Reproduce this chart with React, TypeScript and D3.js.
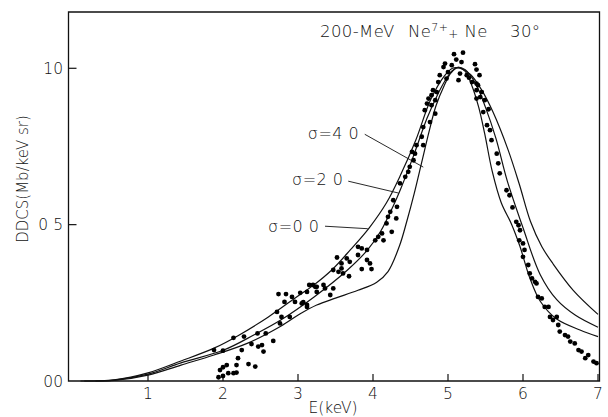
import React from "react";
import * as d3 from "d3";

// Curve control points (E in keV, DDCS in Mb/keV sr)
const curveSigma00: [number, number][] = [
  [0.1, 0], [0.55, 0.004], [1.0, 0.026], [1.44, 0.064], [1.88, 0.105], [2.2, 0.145],
  [2.6, 0.204], [3.0, 0.272], [3.2, 0.305], [3.45, 0.355], [3.7, 0.42], [3.95, 0.49],
  [4.18, 0.57], [4.37, 0.66], [4.57, 0.77], [4.77, 0.9], [4.95, 0.975], [5.06, 1.0],
  [5.16, 1.0], [5.3, 0.98], [5.45, 0.93], [5.6, 0.86], [5.8, 0.74], [5.95, 0.63],
  [6.1, 0.51], [6.25, 0.43], [6.4, 0.375], [6.67, 0.29], [7.0, 0.213],
];
const curveSigma20: [number, number][] = [
  [0.15, 0], [0.55, 0.003], [1.0, 0.022], [1.44, 0.058], [2.01, 0.099], [2.41, 0.147],
  [2.77, 0.195], [3.21, 0.268], [3.66, 0.355], [3.93, 0.42], [4.1, 0.478], [4.27, 0.56],
  [4.37, 0.615], [4.54, 0.72], [4.72, 0.84], [4.85, 0.91], [4.96, 0.96], [5.06, 0.993],
  [5.14, 1.003], [5.23, 0.995], [5.37, 0.95], [5.5, 0.875], [5.64, 0.775], [5.79, 0.64],
  [6.0, 0.49], [6.23, 0.34], [6.45, 0.26], [6.7, 0.21], [7.0, 0.172],
];
const curveSigma40: [number, number][] = [
  [0.3, 0], [0.55, 0.002], [1.0, 0.019], [1.44, 0.051], [1.88, 0.083], [2.33, 0.121],
  [2.77, 0.175], [3.03, 0.215], [3.25, 0.243], [3.5, 0.265], [3.8, 0.29], [4.05, 0.316],
  [4.2, 0.35], [4.35, 0.43], [4.45, 0.51], [4.55, 0.6], [4.65, 0.7], [4.75, 0.8],
  [4.84, 0.88], [4.95, 0.945], [5.04, 0.985], [5.13, 1.003], [5.23, 0.99], [5.31, 0.95],
  [5.41, 0.875], [5.49, 0.79], [5.59, 0.67], [5.71, 0.57], [5.85, 0.5], [5.96, 0.43],
  [6.09, 0.33], [6.23, 0.255], [6.45, 0.198], [6.76, 0.163], [7.0, 0.142],
];

// Measured points
const measured: [number, number][] = [
  [2.74, 0.278], [2.84, 0.278], [2.92, 0.269], [3.03, 0.282], [3.15, 0.307], [3.23, 0.301],
  [2.82, 0.253], [2.96, 0.253], [3.05, 0.248], [3.12, 0.243], [2.72, 0.221], [2.78, 0.205],
  [2.89, 0.205], [2.76, 0.184], [2.57, 0.152], [2.46, 0.152], [2.28, 0.142], [2.14, 0.138],
  [2.38, 0.118], [2.67, 0.128], [2.52, 0.115], [2.47, 0.11], [2.25, 0.099], [2.0, 0.097],
  [1.88, 0.099], [2.54, 0.094], [2.2, 0.073], [2.05, 0.051], [2.0, 0.044], [1.96, 0.035],
  [2.18, 0.051], [2.34, 0.054], [2.43, 0.046], [2.07, 0.025], [2.14, 0.025], [2.18, 0.027],
  [1.94, 0.012], [2.0, 0.016],
  [4.36, 0.632], [4.27, 0.578], [4.32, 0.557], [4.23, 0.541], [4.2, 0.525], [4.31, 0.52],
  [4.18, 0.504], [4.25, 0.477], [4.12, 0.472], [4.07, 0.461], [4.14, 0.45], [4.03, 0.45],
  [3.8, 0.429], [3.85, 0.424], [3.92, 0.419], [3.8, 0.403], [3.92, 0.387], [3.96, 0.376],
  [3.52, 0.395], [3.65, 0.392], [3.69, 0.381], [3.58, 0.376], [3.58, 0.36], [3.85, 0.358],
  [3.98, 0.358], [3.47, 0.355], [3.54, 0.349], [3.6, 0.344], [3.68, 0.335], [3.2, 0.307],
  [3.25, 0.301], [3.34, 0.307], [3.36, 0.296], [3.47, 0.296], [3.25, 0.285], [3.43, 0.275],
  [3.12, 0.285], [3.07, 0.252], [3.12, 0.237],
  [5.08, 1.045], [5.2, 1.05], [5.11, 1.028], [5.18, 1.02], [4.96, 1.015], [4.94, 1.004],
  [5.05, 1.01], [5.36, 1.013], [5.38, 0.996], [4.89, 0.978], [5.0, 0.988], [5.16, 0.983],
  [5.25, 0.978], [5.28, 0.97], [5.42, 0.978], [4.98, 0.967], [5.14, 0.962], [4.87, 0.956],
  [5.32, 0.956], [5.38, 0.951], [5.4, 0.946], [4.8, 0.93], [4.85, 0.924], [5.38, 0.93],
  [5.45, 0.924], [4.78, 0.914], [4.74, 0.903], [4.83, 0.898], [5.43, 0.908], [5.38, 0.903],
  [5.49, 0.898], [4.72, 0.887], [4.78, 0.882], [4.69, 0.866], [4.83, 0.855], [5.47, 0.86],
  [5.54, 0.869], [4.76, 0.828], [5.52, 0.818], [4.67, 0.812], [5.56, 0.802], [4.65, 0.781],
  [5.58, 0.77], [4.58, 0.754], [4.67, 0.754], [4.52, 0.733], [4.56, 0.727], [4.54, 0.706],
  [5.65, 0.727], [5.67, 0.696], [4.49, 0.685], [4.47, 0.669], [4.43, 0.653], [5.69, 0.664],
  [5.78, 0.61], [5.82, 0.594], [5.86, 0.555], [5.91, 0.509], [5.94, 0.498], [5.96, 0.482],
  [5.95, 0.45], [6.0, 0.44], [6.02, 0.419], [6.0, 0.397], [6.07, 0.371], [6.09, 0.344],
  [6.12, 0.328], [6.16, 0.317], [6.18, 0.312], [6.2, 0.269], [6.25, 0.264], [6.29, 0.237],
  [6.34, 0.237], [6.36, 0.205], [6.4, 0.195], [6.45, 0.205], [6.47, 0.179], [6.49, 0.158],
  [6.56, 0.147], [6.6, 0.142], [6.63, 0.126], [6.69, 0.12], [6.74, 0.099], [6.78, 0.094],
  [6.83, 0.073], [6.87, 0.083], [6.94, 0.062], [6.98, 0.057],
];

const xTicks = [1, 2, 3, 4, 5, 6, 7];
const xTickLabels = ["1", "2", "3", "4", "5", "6", "7"];
const yTicks = [0, 0.5, 1.0];
const yTickLabels = ["00", "0 5", "10"];

// Curve labels: text anchor and leader line (E, DDCS)
const sigmaLabels = ["σ=4 0", "σ=2 0", "σ=0 0"];
const sigmaTextPos: [number, number][] = [[3.13, 0.773], [2.92, 0.626], [2.6, 0.476]];
const sigmaLeaderFrom: [number, number][] = [[3.89, 0.789], [3.67, 0.639], [3.36, 0.495]];
const sigmaLeaderTo: [number, number][] = [[4.67, 0.684], [4.34, 0.601], [3.93, 0.487]];

const W = 608;
const H = 417;
const FONT = "'DejaVu Sans', 'Liberation Sans', sans-serif";

export default function App() {
  const x = d3.scaleLinear().domain([-0.06, 7.02]).range([68.5, 599.5]);
  const y = d3.scaleLinear().domain([0, 1.18]).range([381, 12]);
  const line = d3
    .line<[number, number]>()
    .x((d) => x(d[0]))
    .y((d) => y(d[1]))
    .curve(d3.curveCatmullRom.alpha(0.5));

  const [x0, x1] = x.range();
  const [yb, yt] = y.range();

  return (
    <svg
      width={W}
      height={H}
      style={{ position: "fixed", left: 0, top: 0, background: "#fff" }}
      fontFamily={FONT}
      fontWeight={300}
    >
      <rect x={0} y={0} width={W} height={H} fill="#fff" />
      {/* frame */}
      <path
        d={`M${x0},${yb}V${yt}H${x1}V${yb}H${x0}Z`}
        fill="none"
        stroke="#111"
        strokeWidth={1.3}
      />
      {/* x ticks */}
      {xTicks.map((t, i) => (
        <g key={"xt" + i}>
          <line x1={x(t)} x2={x(t)} y1={yb} y2={yb - 7} stroke="#111" strokeWidth={1.2} />
          <text x={x(t)} y={yb + 18} fontSize={15.5} textAnchor="middle" fill="#111">
            {xTickLabels[i]}
          </text>
        </g>
      ))}
      {/* y ticks */}
      {yTicks.map((t, i) => (
        <g key={"yt" + i}>
          {t > 0 && (
            <line x1={x0} x2={x0 + 8} y1={y(t)} y2={y(t)} stroke="#111" strokeWidth={1.2} />
          )}
          <text x={63} y={y(t) + 5.5} fontSize={15.5} textAnchor="end" fill="#111">
            {yTickLabels[i]}
          </text>
        </g>
      ))}
      {/* axis titles */}
      <text x={333} y={413} fontSize={15.5} textAnchor="middle" fill="#111">
        E(keV)
      </text>
      <text
        transform={`translate(28,179) rotate(-90)`}
        fontSize={15}
        textAnchor="middle"
        fill="#111"
      >
        DDCS(Mb/keV sr)
      </text>
      {/* title */}
      <text x={320} y={37} fontSize={16.5} letterSpacing={0.4} fill="#111">
        200-MeV
      </text>
      <text x={408} y={37} fontSize={16.5} letterSpacing={0.4} fill="#111">
        Ne
        <tspan fontSize={11} dy={-6}>7+</tspan>
        <tspan fontSize={12} dy={7}>+</tspan>
        <tspan dy={-1}> Ne</tspan>
      </text>
      <text x={510} y={37} fontSize={16.5} letterSpacing={0.4} fill="#111">
        30°
      </text>
      {/* curves */}
      {[curveSigma00, curveSigma20, curveSigma40].map((c, i) => (
        <path key={"c" + i} d={line(c) || ""} fill="none" stroke="#111" strokeWidth={1.2} />
      ))}
      {/* labels and leaders */}
      {sigmaLabels.map((s, i) => (
        <g key={"s" + i}>
          <text
            x={x(sigmaTextPos[i][0])}
            y={y(sigmaTextPos[i][1])}
            fontSize={16}
            letterSpacing={0.5}
            fill="#111"
          >
            {s}
          </text>
          <line
            x1={x(sigmaLeaderFrom[i][0])}
            y1={y(sigmaLeaderFrom[i][1])}
            x2={x(sigmaLeaderTo[i][0])}
            y2={y(sigmaLeaderTo[i][1])}
            stroke="#111"
            strokeWidth={0.9}
          />
        </g>
      ))}
      {/* measured points */}
      {measured.map((d, i) => (
        <circle key={"p" + i} cx={x(d[0])} cy={y(d[1])} r={2.4} fill="#000" />
      ))}
    </svg>
  );
}
